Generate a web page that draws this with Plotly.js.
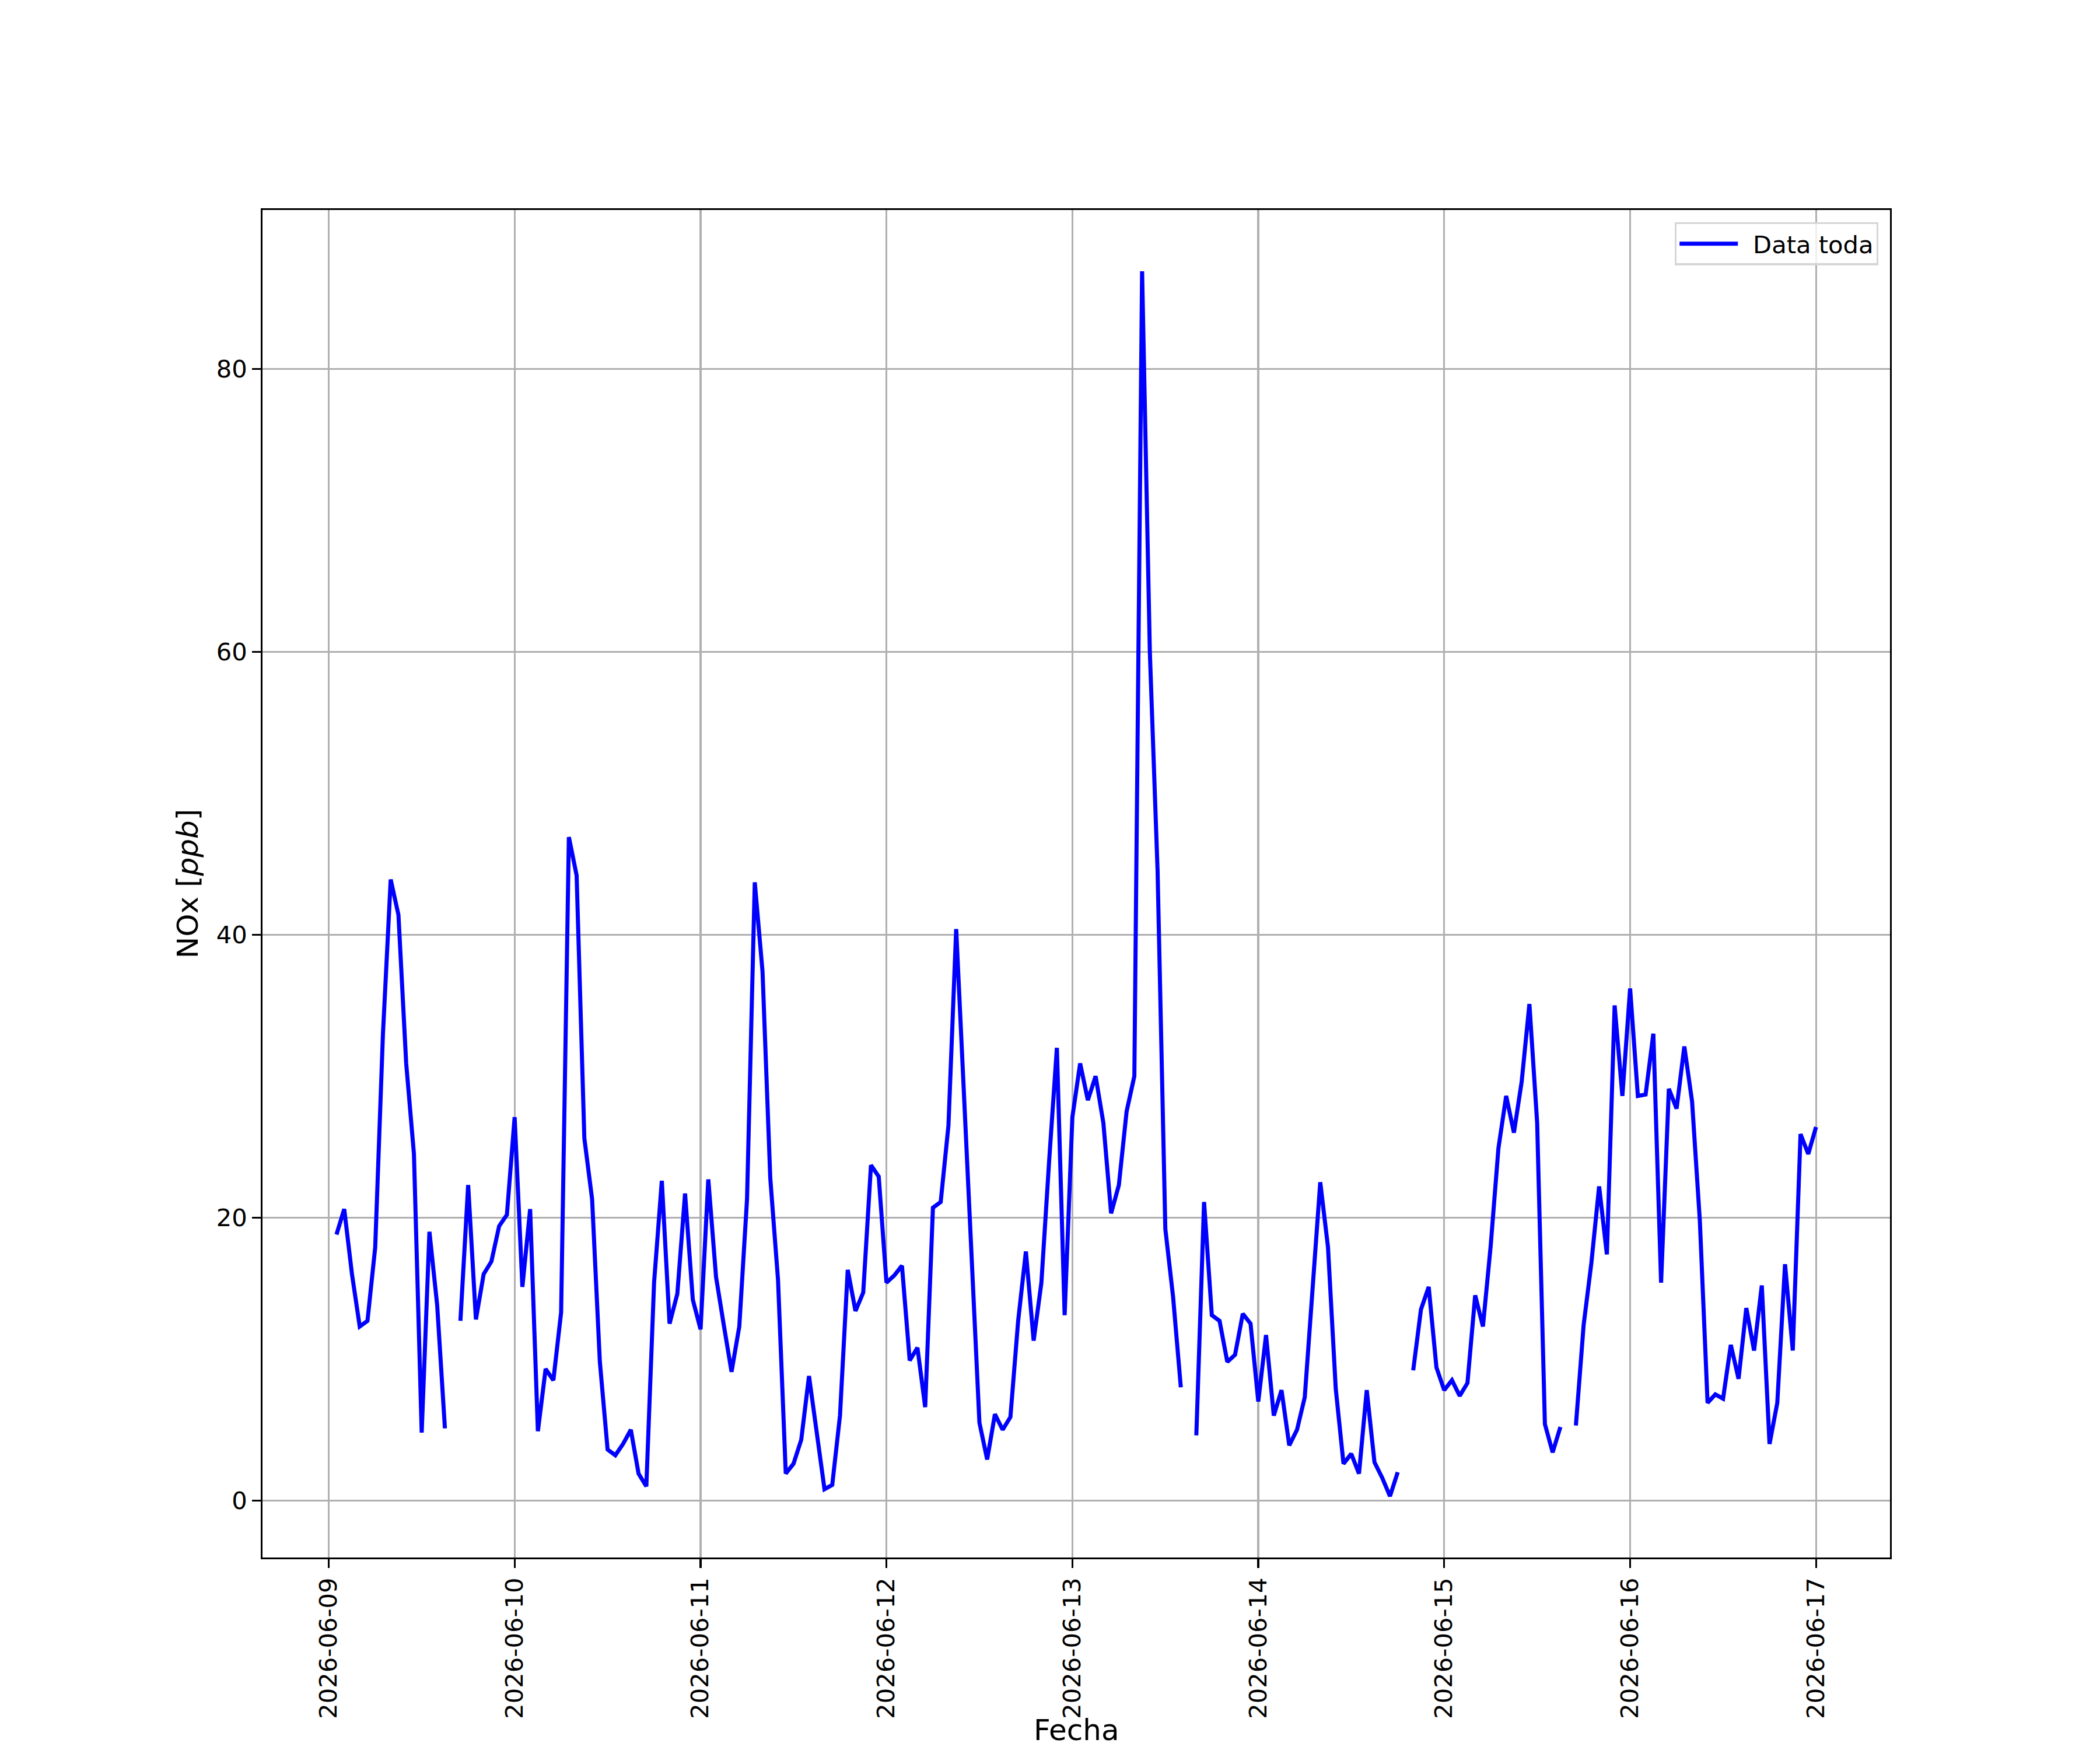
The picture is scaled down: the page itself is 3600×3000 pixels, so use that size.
<!DOCTYPE html>
<html>
<head>
<meta charset="utf-8">
<script src="https://cdn.plot.ly/plotly-3.0.1.min.js"></script>
<style>html,body{margin:0;padding:0;background:#fff;} #chart{width:3600px;height:3000px;}</style>
</head>
<body>
<div id="chart"></div>
<script>
// Hourly NOx values [ppb]; null = missing hour
const startDay = '2026-06-09';
const firstHour = 1; // data begin 2026-06-09 01:00
const day0609 = [18.8, 20.6, 16.0, 12.3, 12.7, 17.9, 33.0, 43.9, 41.4, 30.9, 24.5, 4.8, 19.0, 13.8, 5.1, null, 12.7, 22.3, 12.8, 16.0, 16.9, 19.4, 20.2];
const day0610 = [27.1, 15.1, 20.6, 4.9, 9.3, 8.5, 13.3, 46.9, 44.2, 25.6, 21.3, 9.8, 3.6, 3.2, 4.0, 5.0, 1.9, 1.0, 15.4, 22.6, 12.5, 14.6, 21.7, 14.2];
const day0611 = [12.1, 22.7, 15.8, 12.4, 9.1, 12.3, 21.3, 43.7, 37.4, 22.8, 15.6, 1.9, 2.6, 4.3, 8.8, 4.8, 0.8, 1.1, 6.0, 16.3, 13.4, 14.7, 23.7, 22.9];
const day0612 = [15.4, 15.9, 16.6, 9.9, 10.8, 6.6, 20.7, 21.1, 26.5, 40.4, 28.6, 16.8, 5.5, 2.9, 6.1, 5.0, 5.9, 12.7, 17.6, 11.3, 15.4, 24.0, 32.0, 13.1];
const day0613 = [27.1, 30.9, 28.3, 30.0, 26.7, 20.3, 22.3, 27.5, 30.0, 86.9, 60.0, 44.5, 19.2, 14.4, 8.0, null, 4.6, 21.1, 13.1, 12.7, 9.8, 10.3, 13.2, 12.5];
const day0614 = [7.0, 11.7, 6.0, 7.8, 3.9, 5.0, 7.3, 14.9, 22.5, 17.9, 7.9, 2.6, 3.3, 1.9, 7.8, 2.7, 1.6, 0.3, 2.0, null, 9.2, 13.5, 15.1, 9.4];
const day0615 = [7.8, 8.5, 7.4, 8.3, 14.5, 12.3, 18.0, 24.9, 28.6, 26.0, 29.6, 35.1, 26.7, 5.4, 3.4, 5.2, null, 5.3, 12.4, 16.8, 22.2, 17.4, 35.0, 28.6];
const day0616 = [36.2, 28.6, 28.7, 33.0, 15.4, 29.1, 27.7, 32.1, 28.2, 19.8, 6.9, 7.5, 7.2, 11.0, 8.6, 13.6, 10.6, 15.2, 4.0, 6.9, 16.7, 10.6, 25.9, 24.5];
const day0617 = [26.4];

const seriesName = 'Data toda';
const xTitle = 'Fecha';
const yTitle = 'NOx [<i>ppb</i>]';
const yTicks = [0, 20, 40, 60, 80];

const values = [].concat(day0609, day0610, day0611, day0612, day0613, day0614, day0615, day0616, day0617);

function pad(n){ return (n < 10 ? '0' : '') + n; }
function fmt(ms){
  const d = new Date(ms);
  return d.getUTCFullYear() + '-' + pad(d.getUTCMonth()+1) + '-' + pad(d.getUTCDate()) + ' ' + pad(d.getUTCHours()) + ':' + pad(d.getUTCMinutes());
}
const base = Date.UTC(2026, 5, 9, 0, 0);
const times = values.map((v, i) => fmt(base + (firstHour + i) * 3600000));

// matplotlib-like 5% margins
const t0 = base + firstHour * 3600000;
const t1 = base + (firstHour + values.length - 1) * 3600000;
const tm = (t1 - t0) * 0.05;
const vals = values.filter(v => v !== null);
const vmin = Math.min(...vals), vmax = Math.max(...vals);
const vm = (vmax - vmin) * 0.05;

const PX = 300 / 72; // pt -> px at 300 dpi
const font = 'DejaVu Sans, Liberation Sans, sans-serif';

const trace = {
  x: times, y: values, type: 'scatter', mode: 'lines', name: '\u2002' + seriesName,
  line: {color: '#0000ff', width: 7}, connectgaps: false
};

const axisCommon = {
  showline: true, linecolor: '#000', linewidth: 0.8 * PX, mirror: true,
  ticks: 'outside', ticklen: 3.5 * PX, tickwidth: 0.8 * PX, tickcolor: '#000',
  showgrid: true, gridcolor: '#b0b0b0', gridwidth: 0.8 * PX, zeroline: false,
  tickfont: {family: font, size: 10 * PX, color: '#000'}
};

const layout = {
  width: 3600, height: 3000,
  paper_bgcolor: '#fff', plot_bgcolor: '#fff',
  margin: {l: 450, r: 360, t: 360, b: 330, pad: 0},
  showlegend: true,
  xaxis: Object.assign({}, axisCommon, {
    type: 'date',
    range: [fmt(t0 - tm), fmt(t1 + tm)],
    tickmode: 'linear', tick0: startDay, dtick: 86400000,
    tickformat: '%Y-%m-%d', tickangle: -90
  }),
  yaxis: Object.assign({}, axisCommon, {
    range: [vmin - vm, vmax + vm],
    tickmode: 'array', tickvals: yTicks, ticktext: yTicks.map(String),
    title: {text: yTitle, font: {family: font, size: 12 * PX, color: '#000'}, standoff: 16}
  }),
  annotations: [{
    text: xTitle, xref: 'paper', yref: 'paper', x: 0.5, y: -0.1415,
    xanchor: 'center', yanchor: 'bottom', showarrow: false,
    font: {family: font, size: 12 * PX, color: '#000'}
  }],
  legend: {
    x: 0.9928, y: 0.991, xanchor: 'right', yanchor: 'top',
    bgcolor: 'rgba(255,255,255,0.8)', bordercolor: '#d6d6d6', borderwidth: 0.8 * PX,
    itemwidth: 100,
    font: {family: font, size: 10 * PX, color: '#000'}
  }
};

Plotly.newPlot('chart', [trace], layout, {staticPlot: true, displayModeBar: false});
</script>
</body>
</html>
